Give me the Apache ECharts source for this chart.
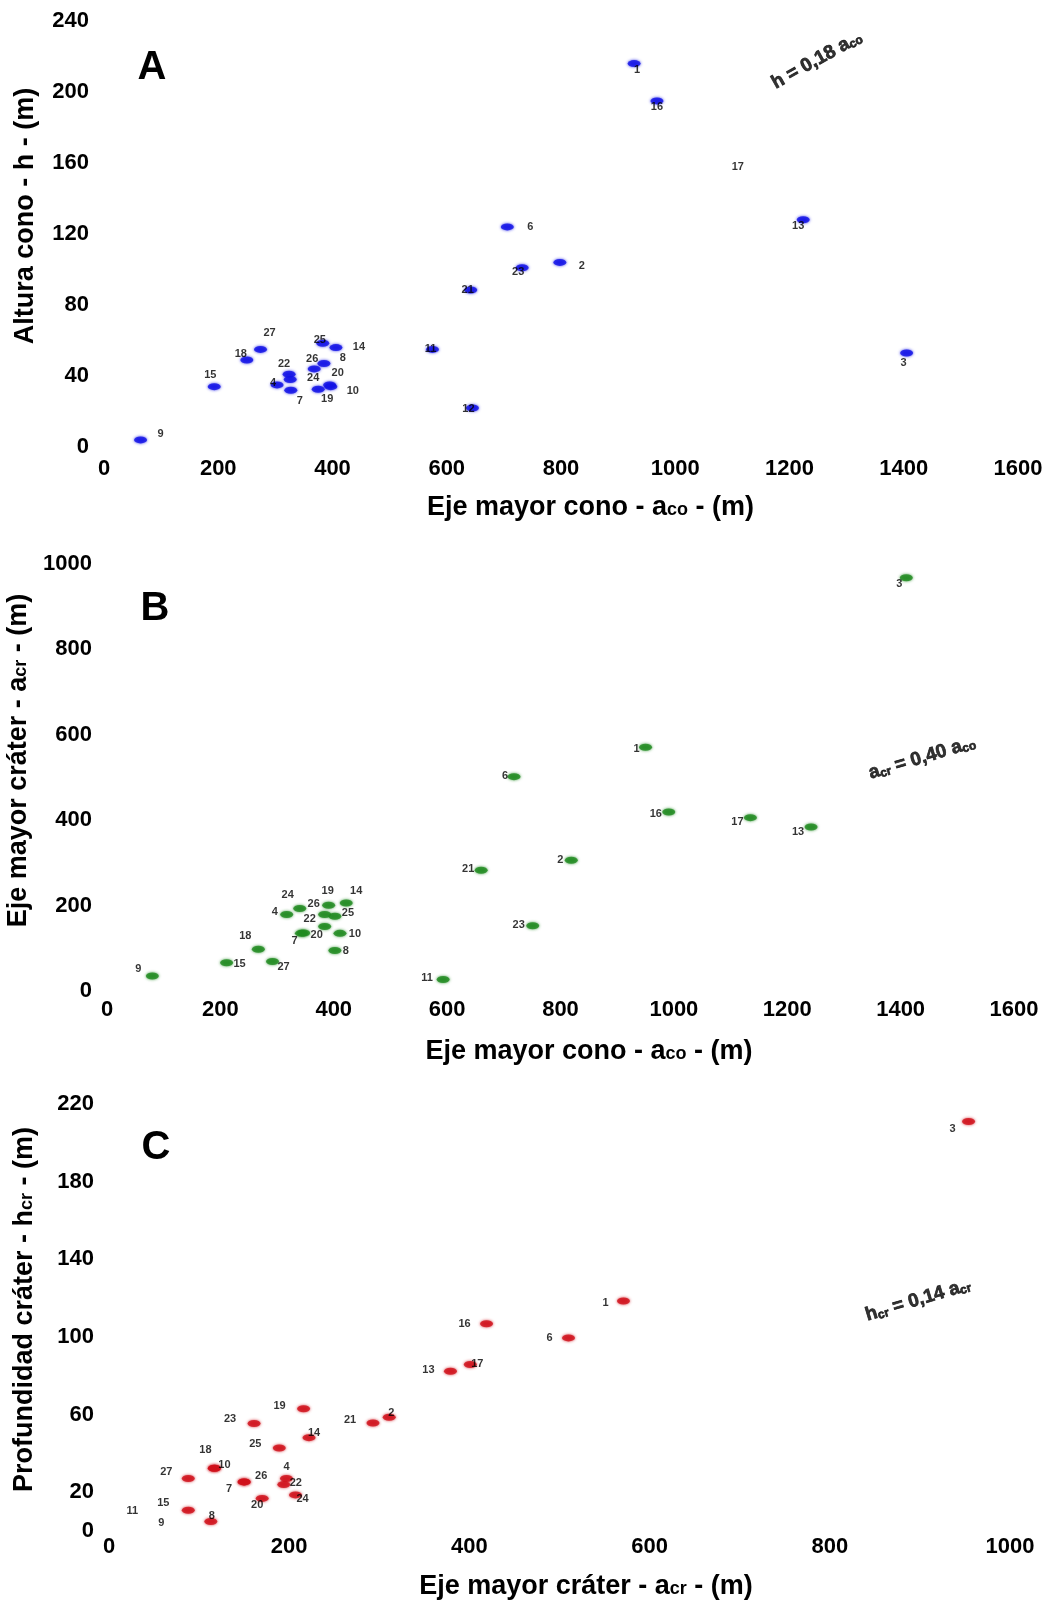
<!DOCTYPE html>
<html><head><meta charset="utf-8">
<script src="https://cdn.jsdelivr.net/npm/echarts@6/dist/echarts.min.js"></script>
<style>html,body{margin:0;padding:0;background:#fff}#c{width:1048px;height:1602px}</style>
</head><body><div id="c"></div>
<script>
// ---------- Panel A: altura cono (h) vs eje mayor cono (aco) ----------
const idsA = ['1','2','3','4','6','7','8','9','10','11','12','13','14','15','16','17','18','19','20','21','22','23','24','25','26','27'];
const acoA = [928, 798, 1405, 303, 706, 327, 385, 64, 397, 575, 645, 1224, 406, 193, 968, 1134, 250, 375, 395, 642, 324, 732, 326, 383, 368, 274];
const hA   = [216, 104, 53, 35, 124, 32, 47, 4, 34, 55, 22, 128, 56, 34, 195, 158, 49, 32.5, 35, 88.5, 41, 101, 38, 58.5, 44, 55];

// ---------- Panel B: eje mayor cráter (acr) vs eje mayor cono (aco) ----------
const idsB = ['1','2','3','4','6','7','8','9','10','11','13','14','15','16','17','18','19','20','21','22','23','24','25','26','27'];
const acoB = [950, 819, 1410, 317, 718, 343, 402, 80, 411, 593, 1242, 422, 211, 991, 1135, 267, 391, 347, 660, 384, 751, 340, 402, 384, 292];
const acrB = [571, 306, 968, 179, 502, 135, 95, 35, 135, 27, 384, 206, 66, 419, 406, 98, 201, 136, 283, 151, 153, 193, 175, 179, 69];

// ---------- Panel C: profundidad cráter (hcr) vs eje mayor cráter (acr) ----------
const idsC = ['1','2','3','4','6','7','8','9','10','11','13','14','15','16','17','18','19','20','21','22','23','24','25','26','27'];
const acrC = [571, 311, 954, 197, 510, 150, 113, 58, 117, 26, 379, 222, 88, 419, 401, 117, 216, 170, 293, 194, 161, 207, 189, 150, 88];
const hcrC = [118.5, 58.6, 211, 27, 99.5, 25.3, 4.9, 4.2, 32.3, 10.4, 82.3, 48.1, 10.7, 106.8, 85.8, 32.3, 63, 16.8, 55.6, 23.9, 55.4, 18.6, 42.8, 25.3, 27];

// Tick label set shown on panel C y axis
const ticksCy = [0, 20, 60, 100, 140, 180, 220];

// Regression annotations
const eqA = {slope: 0.18, at: [1248, 218]};
const eqB = {slope: 0.40, at: [1438, 546]};
const eqC = {slope: 0.14, at: [898, 119]};

// ---------- styling (label placement offsets in px, hidden markers) ----------
const offA = {'1':[3,6],'2':[22,4],'3':[-3,10],'4':[-4,-2],'6':[23,0],'7':[9,11],'8':[19,-6],'9':[20,-6],'10':[22,4],'11':[-2,0],'12':[-4,1],'13':[-5,6],'14':[23,-1],'15':[-4,-12],'16':[0,6],'17':[-14,0],'18':[-6,-6],'19':[9,10],'20':[8,-12],'21':[-3,0],'22':[-5,-10],'23':[-4,4],'24':[23,-2],'25':[-3,-3],'26':[-2,-10],'27':[9,-16]};
const offB = {'1':[-9,2],'2':[-11,0],'3':[-7,6],'4':[-12,-3],'6':[-9,-1],'7':[-7,8],'8':[11,1],'9':[-14,-7],'10':[15,1],'11':[-16,-2],'13':[-13,5],'14':[10,-12],'15':[13,1],'16':[-13,2],'17':[-13,4],'18':[-13,-13],'19':[-1,-14],'20':[13,2],'21':[-13,-1],'22':[-15,-8],'23':[-14,-1],'24':[-12,-14],'25':[13,-3],'26':[-11,-11],'27':[11,5]};
const offC = {'1':[-18,2],'2':[2,-4],'3':[-16,8],'4':[0,-12],'6':[-19,0],'7':[-15,7],'8':[1,-6],'9':[0,0],'10':[10,-3],'11':[0,0],'13':[-22,-1],'14':[5,-5],'15':[-25,-7],'16':[-22,0],'17':[7,-1],'18':[-9,-18],'19':[-24,-3],'20':[-5,7],'21':[-23,-3],'22':[12,-2],'23':[-24,-5],'24':[7,4],'25':[-24,-4],'26':[17,-6],'27':[-22,-7]};
const hiddenA = ['17'];
const hiddenC = ['9','11'];

const FONT = '"Liberation Sans", Arial, sans-serif';
const grids = [
  {left: 104, top: 21, width: 914, height: 426, outerBoundsMode: 'none', containLabel: false},
  {left: 107, top: 564, width: 907, height: 427, outerBoundsMode: 'none', containLabel: false},
  {left: 109, top: 1104, width: 901, height: 427, outerBoundsMode: 'none', containLabel: false}
];
const ranges = [[1600, 240], [1600, 1000], [1000, 220]];

function pts(ids, xs, ys, off, hidden) {
  return ids.map((id, i) => ({
    name: id,
    value: [xs[i], ys[i]],
    itemStyle: hidden.includes(id) ? {color: 'rgba(0,0,0,0)', shadowBlur: 0, shadowColor: 'rgba(0,0,0,0)'} : undefined,
    label: {offset: off[id] || [0, 0]}
  }));
}

const axisLabel = {fontSize: 22, fontWeight: 'bold', color: '#000', fontFamily: FONT};
const nameStyle = (pad) => ({fontSize: 27, fontWeight: 'bold', color: '#000', fontFamily: FONT, padding: pad,
  rich: {s: {fontSize: 18, fontWeight: 'bold', color: '#000', fontFamily: FONT, verticalAlign: 'bottom', padding: [0, 0, 2, 0]}}});

function xAx(gi, max, name, gap, margin, shift) {
  return {gridIndex: gi, type: 'value', min: 0, max: max, interval: 200,
    axisLine: {show: false}, axisTick: {show: false}, splitLine: {show: false},
    axisLabel: Object.assign({margin: margin, formatter: v => String(v)}, axisLabel),
    name: name, nameLocation: 'middle', nameGap: gap, nameTextStyle: nameStyle([0, 0, 0, shift])};
}
function yAx(gi, max, interval, name, gap, shift, fmt) {
  return {gridIndex: gi, type: 'value', min: 0, max: max, interval: interval,
    axisLine: {show: false}, axisTick: {show: false}, splitLine: {show: false},
    axisLabel: Object.assign({margin: 15, formatter: fmt || (v => String(v))}, axisLabel),
    name: name, nameLocation: 'middle', nameRotate: 90, nameGap: gap, nameTextStyle: nameStyle([0, 0, 0, shift])};
}

const ptLabel = {show: true, position: 'inside', formatter: '{b}', fontSize: 11, fontWeight: 'bold', color: '#000', fontFamily: FONT};

function scatter(gi, data, color) {
  return {type: 'scatter', xAxisIndex: gi, yAxisIndex: gi, data: data, symbol: 'circle', symbolSize: [13, 7],
    itemStyle: {color: color, shadowBlur: 3, shadowColor: color}, label: ptLabel, z: 3, silent: true};
}
function eq(gi, eqo, text) {
  const g = grids[gi], r = ranges[gi];
  const pxX = g.width / r[0], pxY = g.height / r[1];
  const ang = Math.atan(eqo.slope * pxY / pxX) * 180 / Math.PI;
  const base = {fontWeight: 'bold', color: '#000', fontFamily: FONT, textBorderColor: '#000', textBorderWidth: 0.7};
  return {type: 'scatter', xAxisIndex: gi, yAxisIndex: gi, symbolSize: 0, silent: true,
    data: [{value: eqo.at}],
    label: {show: true, position: 'inside', rotate: ang, formatter: text, fontSize: 19, fontWeight: 'bold', color: '#000', fontFamily: FONT,
      rich: {n: Object.assign({fontSize: 19}, base), s: Object.assign({fontSize: 12, verticalAlign: 'bottom'}, base)}}};
}

const option = {
  backgroundColor: '#fff',
  animation: false,
  grid: grids,
  xAxis: [
    xAx(0, 1600, 'Eje mayor cono - a{s|co} - (m)', 47, 11, 59),
    xAx(1, 1600, 'Eje mayor cono - a{s|co} - (m)', 47, 8, 57),
    xAx(2, 1000, 'Eje mayor cráter - a{s|cr} - (m)', 42, 5, 53)
  ],
  yAxis: [
    yAx(0, 240, 40, 'Altura cono - h - (m)', 65, 36),
    yAx(1, 1000, 200, 'Eje mayor cráter - a{s|cr} - (m)', 68, 34),
    yAx(2, 220, 20, 'Profundidad cráter - h{s|cr} - (m)', 71, 16, v => ticksCy.includes(v) ? String(v) : '')
  ],
  series: [
    scatter(0, pts(idsA, acoA, hA, offA, hiddenA), '#1212e6'),
    scatter(1, pts(idsB, acoB, acrB, offB, []), '#1f8a1f'),
    scatter(2, pts(idsC, acrC, hcrC, offC, hiddenC), '#d0101a'),
    eq(0, eqA, '{n|h = 0,18 a}{s|co}'),
    eq(1, eqB, '{n|a}{s|cr}{n| = 0,40 a}{s|co}'),
    eq(2, eqC, '{n|h}{s|cr}{n| = 0,14 a}{s|cr}')
  ],
  graphic: [
    {type: 'text', x: 152, y: 68, style: {text: 'A', font: 'bold 40px ' + FONT, fill: '#000', align: 'center', verticalAlign: 'middle'}},
    {type: 'text', x: 155, y: 609, style: {text: 'B', font: 'bold 40px ' + FONT, fill: '#000', align: 'center', verticalAlign: 'middle'}},
    {type: 'text', x: 156, y: 1148, style: {text: 'C', font: 'bold 40px ' + FONT, fill: '#000', align: 'center', verticalAlign: 'middle'}}
  ]
};
const chart = echarts.init(document.getElementById('c'), null, {renderer: 'canvas'});
chart.setOption(option);
</script></body></html>
